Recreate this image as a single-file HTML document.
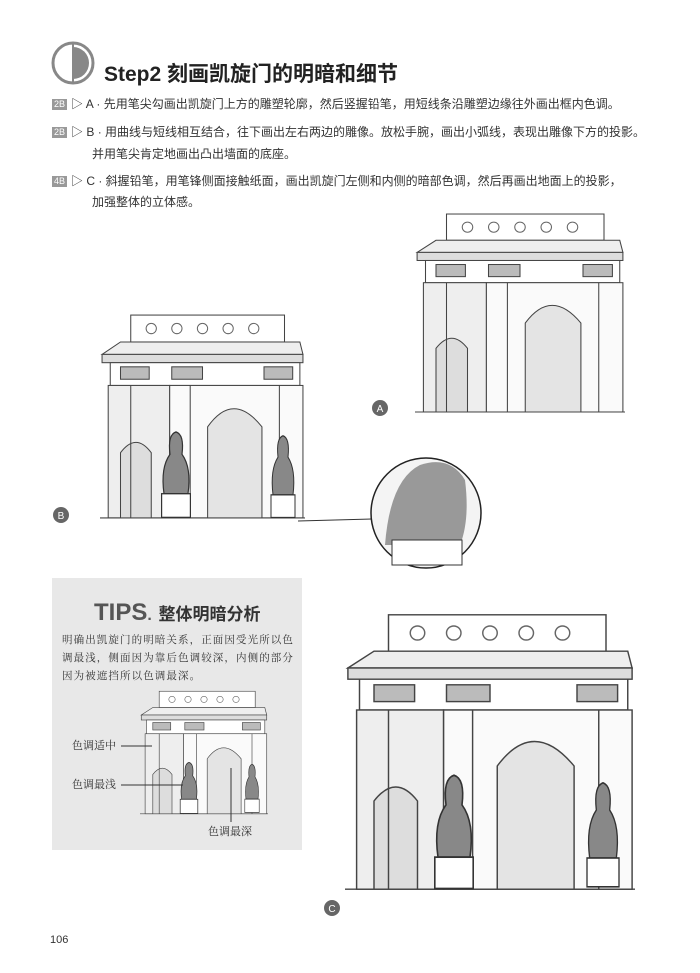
<!DOCTYPE html>
<html><head><meta charset="utf-8"><style>
body{margin:0;background:#fff;}
.pg{position:relative;width:700px;height:973px;overflow:hidden;font-family:"Liberation Sans","Noto Sans CJK SC",sans-serif;color:#333;}
.t{position:absolute;font-size:12px;line-height:20px;white-space:nowrap;color:#333;}
.tag{display:inline-block;background:#999;color:#fff;font-size:9px;line-height:11px;padding:0 2px;margin-right:4px;vertical-align:1px}
svg{position:absolute;left:0;top:0}
</style></head><body><div class="pg">
<svg width="700" height="973" viewBox="0 0 700 973">
<defs>
<symbol id="arch" viewBox="0 0 200 200" preserveAspectRatio="none">
<g fill="none" stroke="#444" stroke-width="1">
<rect x="30" y="2" width="150" height="26" fill="#fff"/>
<g fill="none" stroke="#666"><circle cx="50" cy="15" r="5"/><circle cx="75" cy="15" r="5"/><circle cx="100" cy="15" r="5"/><circle cx="125" cy="15" r="5"/><circle cx="150" cy="15" r="5"/></g>
<polygon points="2,40 20,28 195,28 198,40" fill="#eee"/>
<rect x="2" y="40" width="196" height="8" fill="#ddd"/>
<rect x="10" y="48" width="185" height="22" fill="#fff"/>
<rect x="20" y="52" width="28" height="12" fill="#bbb"/><rect x="70" y="52" width="30" height="12" fill="#bbb"/><rect x="160" y="52" width="28" height="12" fill="#bbb"/>
<rect x="8" y="70" width="60" height="128" fill="#eee"/>
<rect x="68" y="70" width="130" height="128" fill="#fafafa"/>
<path d="M105 198 V110 Q130 75 158 110 V198" fill="#e4e4e4"/>
<path d="M20 198 V135 Q35 115 50 135 V198" fill="#ddd"/>
<line x1="0" y1="198" x2="200" y2="198"/>
<line x1="30" y1="70" x2="30" y2="198"/><line x1="88" y1="70" x2="88" y2="198"/><line x1="175" y1="70" x2="175" y2="198"/>
</g>
</symbol>
<symbol id="sculpt" viewBox="0 0 30 70" preserveAspectRatio="none">
<path d="M5 50 Q2 30 10 20 Q8 5 15 3 Q22 5 20 20 Q28 30 25 50Z" fill="#888" stroke="#333"/>
<rect x="3" y="50" width="24" height="18" fill="#fff" stroke="#333"/>
</symbol>
</defs>
<circle cx="73" cy="63" r="20" fill="none" stroke="#888" stroke-width="3"/>
<path d="M73 47 A16 16 0 0 1 73 79 Z" fill="#888"/>
<line x1="73" y1="43" x2="73" y2="83" stroke="#888" stroke-width="2"/>
<use href="#arch" x="415" y="212" width="210" height="202"/>
<circle cx="380" cy="408" r="8" fill="#666"/><text x="380" y="412" font-size="10" fill="#fff" text-anchor="middle" font-family="Liberation Sans">A</text>
<use href="#arch" x="100" y="313" width="205" height="207"/>
<use href="#sculpt" x="158" y="428" width="36" height="92"/>
<use href="#sculpt" x="268" y="432" width="30" height="88"/>
<circle cx="61" cy="515" r="8" fill="#666"/><text x="61" y="519" font-size="10" fill="#fff" text-anchor="middle" font-family="Liberation Sans">B</text>
<line x1="298" y1="521" x2="372" y2="519" stroke="#333"/>
<circle cx="426" cy="513" r="55" fill="#f4f4f4" stroke="#222" stroke-width="1.5"/>
<path d="M385 545 Q390 480 420 465 Q450 455 465 480 Q470 520 460 545Z" fill="#999"/>
<rect x="392" y="540" width="70" height="25" fill="#fff" stroke="#333"/>
<rect x="52" y="578" width="250" height="272" fill="#e8e8e8"/>
<use href="#arch" x="140" y="690" width="128" height="125"/>
<use href="#sculpt" x="178" y="760" width="22" height="55"/>
<use href="#sculpt" x="243" y="762" width="18" height="52"/>
<g stroke="#333"><line x1="121" y1="746" x2="152" y2="746"/><line x1="121" y1="785" x2="183" y2="785"/><line x1="231" y1="768" x2="231" y2="822"/></g>
<use href="#arch" x="345" y="612" width="290" height="280"/>
<use href="#sculpt" x="430" y="770" width="48" height="122"/>
<use href="#sculpt" x="583" y="778" width="40" height="112"/>
<circle cx="332" cy="908" r="8" fill="#666"/><text x="332" y="912" font-size="10" fill="#fff" text-anchor="middle" font-family="Liberation Sans">C</text>
</svg>
<div class="t" style="left:104px;top:60px;font-size:21px;line-height:30px;color:#222;font-weight:bold">Step2 刻画凯旋门的明暗和细节</div>
<div class="t" style="left:52px;top:94px"><span class="tag">2B</span>▷ A · 先用笔尖勾画出凯旋门上方的雕塑轮廓，然后竖握铅笔，用短线条沿雕塑边缘往外画出框内色调。</div>
<div class="t" style="left:52px;top:122px"><span class="tag">2B</span>▷ B · 用曲线与短线相互结合，往下画出左右两边的雕像。放松手腕，画出小弧线，表现出雕像下方的投影。</div>
<div class="t" style="left:92px;top:144px">并用笔尖肯定地画出凸出墙面的底座。</div>
<div class="t" style="left:52px;top:171px"><span class="tag">4B</span>▷ C · 斜握铅笔，用笔锋侧面接触纸面，画出凯旋门左侧和内侧的暗部色调，然后再画出地面上的投影，</div>
<div class="t" style="left:92px;top:192px">加强整体的立体感。</div>
<div class="t" style="left:94px;top:598px;font-size:24px;line-height:30px;font-weight:bold;color:#555">TIPS<span style="font-size:16px">.</span> <span style="font-size:17px;color:#333">整体明暗分析</span></div>
<div class="t" style="left:62px;top:632px;font-size:10.5px;letter-spacing:1.1px;line-height:18px;white-space:normal;width:240px;font-family:'Liberation Serif','Noto Serif CJK SC',serif">明确出凯旋门的明暗关系，正面因受光所以色调最浅，侧面因为靠后色调较深，内侧的部分因为被遮挡所以色调最深。</div>
<div class="t" style="left:72px;top:736px;font-size:11px;font-family:'Liberation Serif','Noto Serif CJK SC',serif">色调适中</div>
<div class="t" style="left:72px;top:775px;font-size:11px;font-family:'Liberation Serif','Noto Serif CJK SC',serif">色调最浅</div>
<div class="t" style="left:208px;top:822px;font-size:11px;font-family:'Liberation Serif','Noto Serif CJK SC',serif">色调最深</div>
<div class="t" style="left:50px;top:930px;font-size:11px">106</div>
</div></body></html>
